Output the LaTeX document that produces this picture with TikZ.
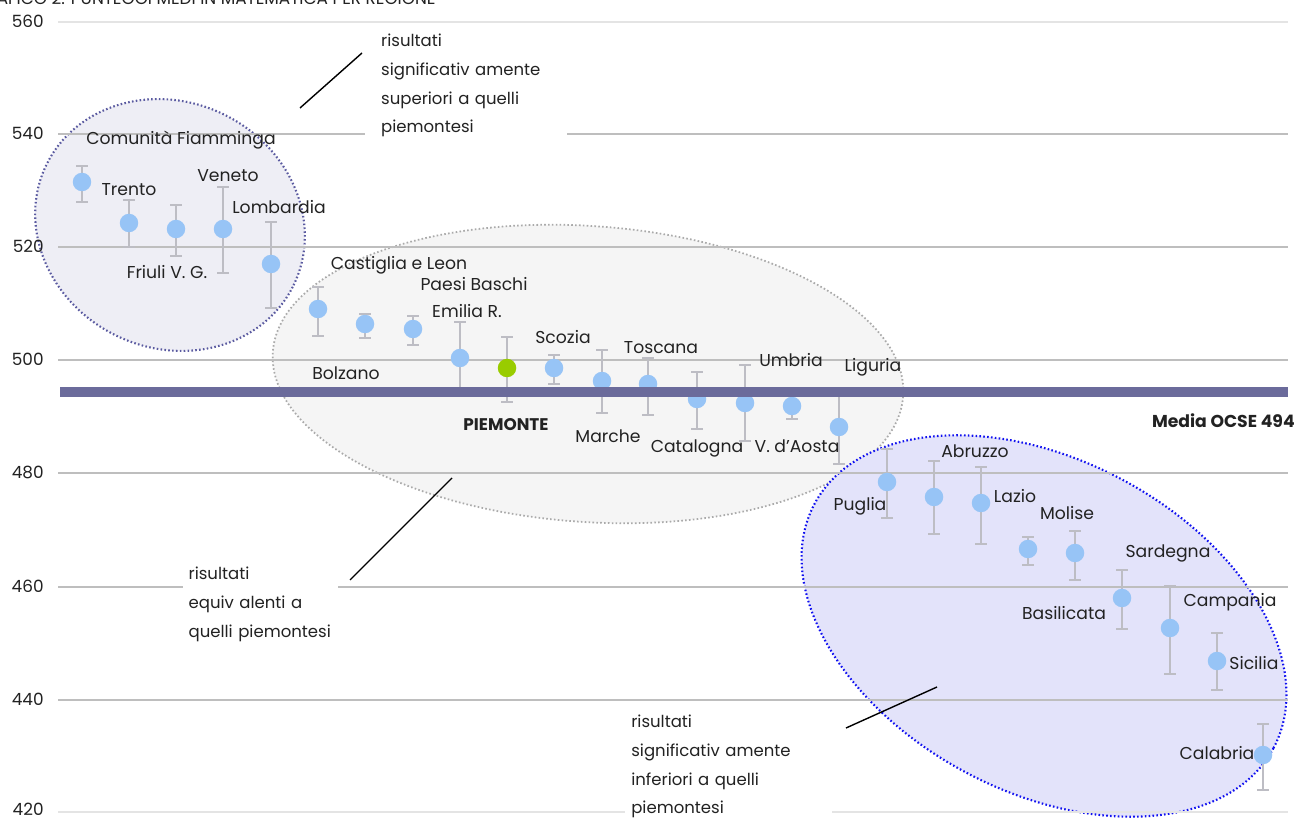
\documentclass[tikz,border=0pt]{standalone}
\usepackage{fontspec}
\setmainfont{Poppins}
\definecolor{gridc}{HTML}{BEBEBE}
\definecolor{gridl}{HTML}{E4E4E4}
\definecolor{barc}{HTML}{BDBDC4}
\definecolor{ptc}{HTML}{97C4F6}
\definecolor{greenc}{HTML}{99CC00}
\definecolor{bandc}{HTML}{6B6B9B}
\definecolor{ellAfill}{HTML}{EEEEF5}
\definecolor{ellAdraw}{HTML}{5A5AA0}
\definecolor{ellBfill}{HTML}{F5F5F5}
\definecolor{ellBdraw}{HTML}{AAAAAA}
\definecolor{ellCfill}{HTML}{E3E3FA}
\definecolor{ellCdraw}{HTML}{1010F0}
\definecolor{txt}{HTML}{222222}
\begin{document}
\begin{tikzpicture}[x=0.02cm,y=-0.02cm,
  grid/.style={draw=gridc, line width=0.8pt},
  gridlight/.style={draw=gridl, line width=0.8pt},
  ebar/.style={draw=barc, line width=1pt},
  pt/.style={circle, fill=ptc, minimum size=0.37cm, inner sep=0pt},
  ptg/.style={circle, fill=greenc, minimum size=0.37cm, inner sep=0pt},
  lab/.style={font=\fontsize{9.8}{11}\selectfont, text=txt, inner sep=0pt},
  axl/.style={font=\fontsize{9.6}{11}\selectfont, text=txt, inner sep=0pt, anchor=east},
  note/.style={font=\fontsize{9.4}{16.4}\selectfont, text=txt, fill=white, align=left, anchor=north west, inner ysep=2pt},
  leader/.style={draw=black, line width=0.8pt},
  ell/.style={line width=1.2pt, dash pattern=on 0.9pt off 1.3pt}]
\useasboundingbox (0,0) rectangle (1298,820);
\fill[white] (0,0) rectangle (1298,820);
% title (cut at the top edge, as in the reference)
\node[anchor=base east, font=\fontsize{9.6}{11}\selectfont, text=txt, inner sep=0pt] (title) at (436,5) {GRAFICO 2. PUNTEGGI MEDI IN MATEMATICA PER REGIONE};
% ellipses
\draw[ell, draw=ellAdraw, fill=ellAfill, shift={(170,225)}, rotate=-26] (0,0) ellipse [x radius=2.75cm, y radius=2.46cm];
\draw[ell, draw=ellBdraw, fill=ellBfill, line width=1pt, shift={(588,374)}, rotate=-4] (0,0) ellipse [x radius=6.32cm, y radius=2.96cm];
\draw[ell, draw=ellCdraw, fill=ellCfill, shift={(1044,626)}, rotate=-28] (0,0) ellipse [x radius=5.2cm, y radius=3.32cm];
% grid
\draw[gridlight] (58,22) -- (1288,22);
\foreach \yy in {134,247,360,473,587,700} {\draw[grid] (58,\yy) -- (1288,\yy);}
\draw[gridlight] (58,812) -- (1288,812);
\foreach \v/\yy in {560/21,540/133,520/246,500/359,480/472,460/586,440/699,420/809} {\node[axl] (ax\v) at (44,\yy) {\v};}
% error bars and points
\foreach \n/\x/\y/\t/\b in {1/82/182/166/202, 2/129/223/200/247, 3/176/229/205/256, 4/223/229/187/273, 5/271/264/222/308, 6/318/309/287/336, 7/365/324/314/338, 8/413/329/316/345, 9/460/358/322/393, 11/554/368/355/384, 12/602/381/350/413, 13/648/384/358/415, 14/697/399/372/429, 15/745/403/365/441, 16/792/406/393/419, 17/839/427/395/464, 18/887/482/449/518, 19/934/497/461/534, 20/981/503/467/544, 21/1028/549/537/565, 22/1075/553/531/580, 23/1122/598/570/629, 24/1170/628/586/674, 25/1217/661/633/690, 26/1263/755/724/790} {
  \draw[ebar] (\x,\t) -- (\x,\b);
  \draw[ebar] (\x-6,\t) -- (\x+6,\t);
  \draw[ebar] (\x-6,\b) -- (\x+6,\b);
  \node[pt] (p\n) at (\x,\y) {};
}
\draw[ebar] (507,337) -- (507,402);
\draw[ebar] (501,337) -- (513,337);
\draw[ebar] (501,402) -- (513,402);
\node[ptg] (p10) at (507,368) {};
% OECD mean band
\fill[bandc] (60,387) rectangle (1288,397);
\node[lab, font=\bfseries\fontsize{9.8}{11}\selectfont, anchor=east] (media) at (1295,421) {Media OCSE 494};
% labels
\node[lab] (l1) at (181,140) {Comunità Fiamminga};
\node[lab] (l2) at (129,190) {Trento};
\node[lab] (l3) at (167,272) {Friuli V. G.};
\node[lab] (l4) at (228,176) {Veneto};
\node[lab] (l5) at (279,207) {Lombardia};
\node[lab] (l6) at (399,265) {Castiglia e Leon};
\node[lab] (l7) at (346,373) {Bolzano};
\node[lab] (l8) at (474,284) {Paesi Baschi};
\node[lab] (l9) at (467,311) {Emilia R.};
\node[lab, font=\bfseries\fontsize{9.6}{11}\selectfont] (l10) at (506,425) {PIEMONTE};
\node[lab] (l11) at (563,337) {Scozia};
\node[lab] (l12) at (608,436) {Marche};
\node[lab] (l13) at (661,348) {Toscana};
\node[lab] (l14) at (697,448) {Catalogna};
\node[lab] (l15) at (791,360) {Umbria};
\node[lab] (l16) at (797,446) {V. d'Aosta};
\node[lab] (l17) at (873,367) {Liguria};
\node[lab] (l18) at (860,506) {Puglia};
\node[lab] (l19) at (975,451) {Abruzzo};
\node[lab] (l20) at (1015,496) {Lazio};
\node[lab] (l21) at (1064,613) {Basilicata};
\node[lab] (l22) at (1067,513) {Molise};
\node[lab] (l23) at (1168,553) {Sardegna};
\node[lab] (l24) at (1230,602) {Campania};
\node[lab] (l25) at (1254,663) {Sicilia};
\node[lab] (l26) at (1217,753) {Calabria};
% notes
\node[note, inner xsep=9pt, text width=97pt] (nsup) at (365,30) {risultati\\significativ amente\\superiori a quelli\\piemontesi};
\node[note, inner xsep=3pt, text width=82pt] (neq) at (183,563) {risultati\\equiv alenti a\\quelli piemontesi};
\node[note, inner xsep=3.4pt, text width=111pt] (ninf) at (625,711) {risultati\\significativ amente\\inferiori a quelli\\piemontesi};
% leader lines
\coordinate (csupA) at (300,108);
\coordinate (csupB) at (362,53);
\coordinate (ceqA) at (350,580);
\coordinate (ceqB) at (452,478);
\coordinate (cinfA) at (846,728);
\coordinate (cinfB) at (937,687);
\draw[leader] (csupA) -- (csupB);
\draw[leader] (ceqA) -- (ceqB);
\draw[leader] (cinfA) -- (cinfB);
\end{tikzpicture}
\end{document}
